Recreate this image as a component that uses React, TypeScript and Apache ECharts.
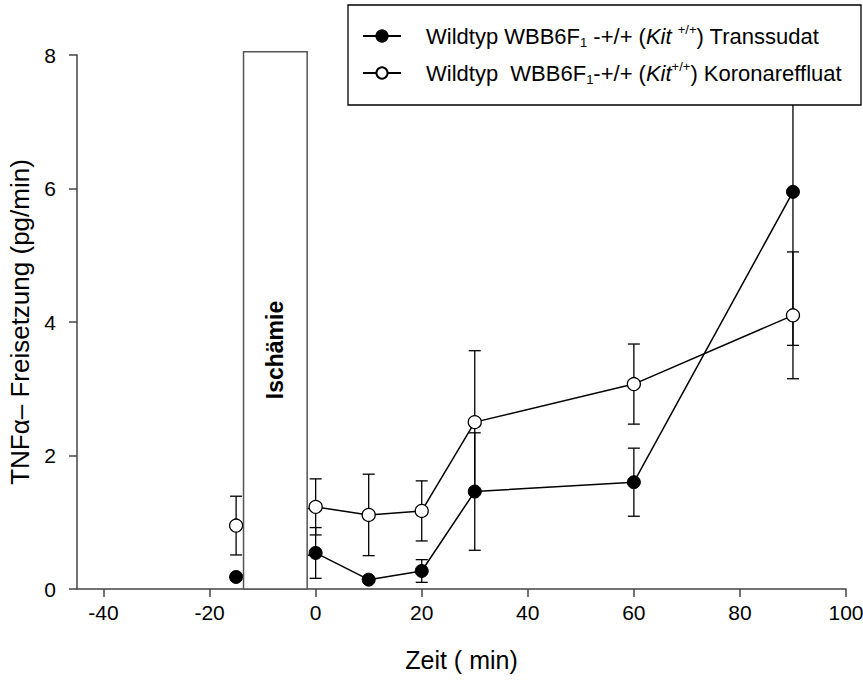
import React, { useEffect, useRef } from "react";
import * as echarts from "echarts";

const timePoints = [-15, 0, 10, 20, 30, 60, 90];
const transsudatMean = [0.18, 0.54, 0.14, 0.27, 1.46, 1.6, 5.95];
const transsudatErr = [0, 0.38, 0, 0.17, 0.88, 0.51, 2.3];
const koronarMean = [0.95, 1.23, 1.11, 1.17, 2.5, 3.07, 4.1];
const koronarErr = [0.44, 0.42, 0.61, 0.45, 1.07, 0.6, 0.95];
const xTickValues = [-40, -20, 0, 20, 40, 60, 80, 100];
const ischemia = [-13.6, -1.6, 8.05];
const ischemiaLabel = "Ischämie";

const FONT = "'Liberation Sans', Arial, sans-serif";

export default function App() {
  const ref = useRef<HTMLDivElement>(null);
  useEffect(() => {
    document.body.style.margin = "0";
    const chart = echarts.init(ref.current!, null, { renderer: "svg" });

    const errData = (means: number[], errs: number[]) =>
      timePoints
        .map((x, i) => [x, means[i] - errs[i], means[i] + errs[i], errs[i]])
        .filter((d) => d[3] > 0);

    const errRender = (params: any, api: any) => {
      const x = api.value(0);
      const lo = api.coord([x, api.value(1)]);
      const hi = api.coord([x, api.value(2)]);
      const cap = 6;
      const st = { stroke: "#000", lineWidth: 1.3 };
      return {
        type: "group",
        children: [
          { type: "line", shape: { x1: lo[0], y1: lo[1], x2: hi[0], y2: hi[1] }, style: st },
          { type: "line", shape: { x1: lo[0] - cap, y1: lo[1], x2: lo[0] + cap, y2: lo[1] }, style: st },
          { type: "line", shape: { x1: hi[0] - cap, y1: hi[1], x2: hi[0] + cap, y2: hi[1] }, style: st },
        ],
      };
    };

    const rich = {
      g: { width: 20, fontSize: 22 },
      n: { fontSize: 22, fontFamily: FONT, color: "#000", lineHeight: 26 },
      it: { fontSize: 22, fontFamily: FONT, fontStyle: "italic", color: "#000", lineHeight: 26 },
      sub: { fontSize: 13, fontFamily: FONT, color: "#000", lineHeight: 12, verticalAlign: "bottom" },
      sup: { fontSize: 13, fontFamily: FONT, color: "#000", lineHeight: 12, verticalAlign: "top" },
    };

    chart.setOption({
      animation: false,
      textStyle: { fontFamily: FONT },
      grid: { left: 77, right: 17, top: 55, bottom: 93, outerBoundsMode: "none" },
      xAxis: {
        type: "value",
        min: -45,
        max: 100,
        name: "Zeit ( min)",
        nameLocation: "middle",
        nameGap: 58,
        nameTextStyle: { fontSize: 25, color: "#000", fontFamily: FONT },
        axisLine: { onZero: false, lineStyle: { color: "#444", width: 1.5 } },
        axisTick: { length: 8, lineStyle: { color: "#444", width: 1.5 }, customValues: xTickValues },
        axisLabel: { fontSize: 21, color: "#000", margin: 13, customValues: xTickValues },
        splitLine: { show: false },
      },
      yAxis: {
        type: "value",
        min: 0,
        max: 8,
        interval: 2,
        name: "TNFα– Freisetzung (pg/min)",
        nameLocation: "middle",
        nameGap: 40,
        nameTextStyle: { fontSize: 26, color: "#000", fontFamily: FONT },
        axisLine: { show: true, onZero: false, lineStyle: { color: "#444", width: 1.5 } },
        axisTick: { show: true, length: 8, lineStyle: { color: "#444", width: 1.5 } },
        axisLabel: { fontSize: 21, color: "#000", margin: 21 },
        splitLine: { show: false },
      },
      legend: {
        orient: "vertical",
        left: 362,
        top: 23,
        padding: 0,
        itemGap: 11,
        itemWidth: 38,
        itemHeight: 14,
        z: 30,
        data: ["Transsudat", "Koronareffluat"],
        textStyle: { rich },
        formatter: (name: string) =>
          name === "Transsudat"
            ? "{g|}{n|Wildtyp WBB6F}{sub|1}{n| -+/+ (}{it|Kit}{n| }{sup|+/+}{n|) Transsudat}"
            : "{g|}{n|Wildtyp  WBB6F}{sub|1}{n|-+/+ (}{it|Kit}{sup|+/+}{n|) Koronareffluat}",
      },
      graphic: [
        {
          type: "rect",
          z: 20,
          shape: { x: 348, y: 5, width: 513, height: 100 },
          style: { fill: "#fff", stroke: "#000", lineWidth: 1.3 },
        },
      ],
      series: [
        {
          name: "errT",
          type: "custom",
          z: 2,
          renderItem: errRender,
          data: errData(transsudatMean, transsudatErr),
          encode: { x: 0, y: [1, 2] },
          clip: false,
        },
        {
          name: "errK",
          type: "custom",
          z: 2,
          renderItem: errRender,
          data: errData(koronarMean, koronarErr),
          encode: { x: 0, y: [1, 2] },
          clip: false,
        },
        {
          name: "Transsudat",
          type: "line",
          z: 3,
          data: timePoints.map((x, i) => [x, transsudatMean[i]]),
          symbol: "circle",
          symbolSize: 13,
          lineStyle: { color: "#000", width: 1.5 },
          itemStyle: { color: "#000", borderColor: "#000", borderWidth: 1 },
        },
        {
          name: "Koronareffluat",
          type: "line",
          z: 4,
          data: timePoints.map((x, i) => [x, koronarMean[i]]),
          symbol: "circle",
          symbolSize: 13,
          lineStyle: { color: "#000", width: 1.5 },
          itemStyle: { color: "#fff", borderColor: "#000", borderWidth: 1.3 },
        },
        {
          name: "box",
          type: "custom",
          z: 6,
          clip: false,
          data: [[ischemia[0], ischemia[1], ischemia[2]]],
          encode: { x: [0, 1], y: 2 },
          renderItem: (params: any, api: any) => {
            const tl = api.coord([api.value(0), api.value(2)]);
            const br = api.coord([api.value(1), 0]);
            return {
              type: "group",
              children: [
                {
                  type: "rect",
                  shape: { x: tl[0], y: tl[1], width: br[0] - tl[0], height: br[1] - tl[1] },
                  style: { fill: "#fff", stroke: "#555", lineWidth: 1.5 },
                },
                {
                  type: "text",
                  x: (tl[0] + br[0]) / 2,
                  y: 350,
                  rotation: Math.PI / 2,
                  style: {
                    text: ischemiaLabel,
                    fontSize: 23,
                    fontWeight: "bold",
                    fontFamily: FONT,
                    fill: "#000",
                    align: "center",
                    verticalAlign: "middle",
                  },
                },
              ],
            };
          },
        },
      ],
    });
    return () => chart.dispose();
  }, []);
  return <div ref={ref} style={{ width: 863, height: 682 }} />;
}
